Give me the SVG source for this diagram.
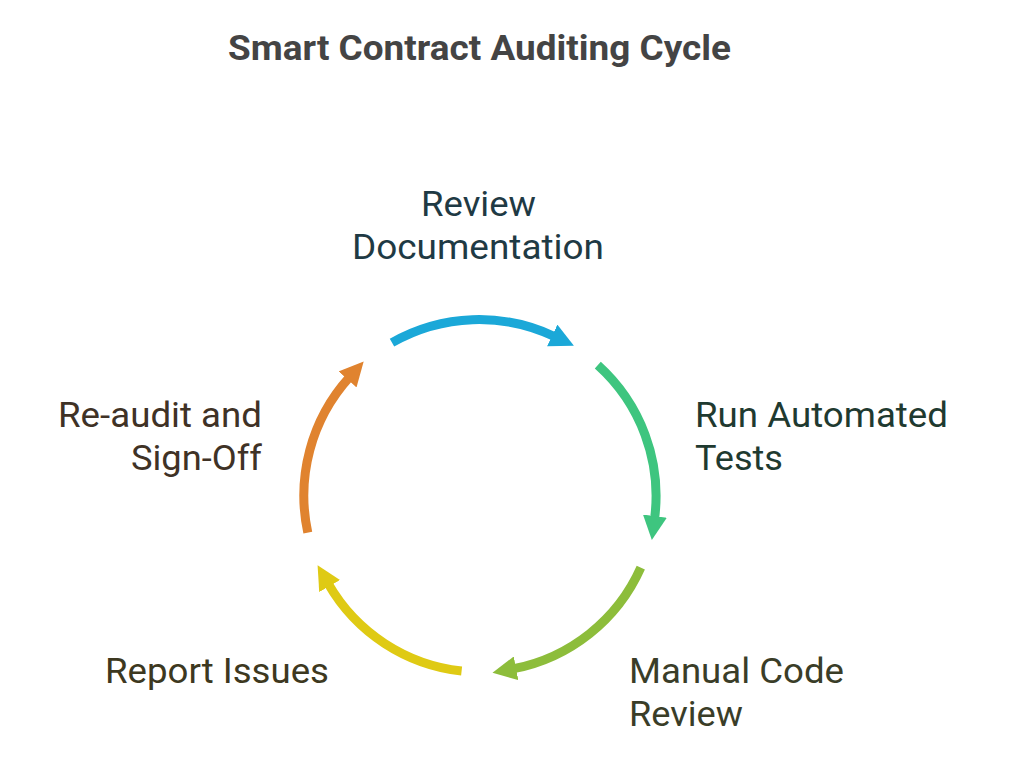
<svg xmlns="http://www.w3.org/2000/svg" width="1024" height="783" viewBox="0 0 1024 783">
<style>
text{font-family:Roboto,"Liberation Sans",sans-serif}
.title{font-size:35px;font-weight:bold;fill:#444444}
.lbl{font-size:35px}
.arc{fill:none;stroke-width:9;stroke-linecap:butt}
</style>
<defs>
<marker id="hb" markerUnits="userSpaceOnUse" markerWidth="24" markerHeight="24" refX="2" refY="10" orient="auto" viewBox="0 0 20 20"><path d="M0,0 L20,10 L0,20 z" fill="#1ba8d8"/></marker>
<marker id="hg" markerUnits="userSpaceOnUse" markerWidth="24" markerHeight="24" refX="2" refY="10" orient="auto" viewBox="0 0 20 20"><path d="M0,0 L20,10 L0,20 z" fill="#3ec57f"/></marker>
<marker id="hl" markerUnits="userSpaceOnUse" markerWidth="24" markerHeight="24" refX="2" refY="10" orient="auto" viewBox="0 0 20 20"><path d="M0,0 L20,10 L0,20 z" fill="#8dbd3b"/></marker>
<marker id="hy" markerUnits="userSpaceOnUse" markerWidth="24" markerHeight="24" refX="2" refY="10" orient="auto" viewBox="0 0 20 20"><path d="M0,0 L20,10 L0,20 z" fill="#dfca14"/></marker>
<marker id="ho" markerUnits="userSpaceOnUse" markerWidth="24" markerHeight="24" refX="2" refY="10" orient="auto" viewBox="0 0 20 20"><path d="M0,0 L20,10 L0,20 z" fill="#e0832f"/></marker>
</defs>
<rect width="1024" height="783" fill="#ffffff"/>
<text class="title" x="228" y="60" textLength="503" lengthAdjust="spacingAndGlyphs">Smart Contract Auditing Cycle</text>
<g id="connectors">
<path class="arc" stroke="#1ba8d8" marker-end="url(#hb)" d="M392,342.6 A176,176 0 0 1 554.4,336.5"/>
<path class="arc" stroke="#3ec57f" marker-end="url(#hg)" d="M597.8,365.2 A176,176 0 0 1 654.6,518.5"/>
<path class="arc" stroke="#8dbd3b" marker-end="url(#hl)" d="M640.8,567.6 A176,176 0 0 1 513.7,668.7"/>
<path class="arc" stroke="#dfca14" marker-end="url(#hy)" d="M461.6,671 A176,176 0 0 1 328.4,584.0"/>
<path class="arc" stroke="#e0832f" marker-end="url(#ho)" d="M307.8,532.6 A176,176 0 0 1 349.2,377.6"/>
</g>
<g id="review-documentation">
<text class="lbl" x="421" y="216" textLength="115" lengthAdjust="spacingAndGlyphs" fill="#1f3a44">Review</text>
<text class="lbl" x="352" y="259" textLength="252" lengthAdjust="spacingAndGlyphs" fill="#1f3a44">Documentation</text>
</g>
<g id="run-automated-tests">
<text class="lbl" x="695" y="427" textLength="253" lengthAdjust="spacingAndGlyphs" fill="#1f3a30">Run Automated</text>
<text class="lbl" x="695" y="470" textLength="88" lengthAdjust="spacingAndGlyphs" fill="#1f3a30">Tests</text>
</g>
<g id="manual-code-review">
<text class="lbl" x="629" y="683" textLength="215" lengthAdjust="spacingAndGlyphs" fill="#3a3d28">Manual Code</text>
<text class="lbl" x="629" y="726" textLength="114" lengthAdjust="spacingAndGlyphs" fill="#3a3d28">Review</text>
</g>
<g id="report-issues">
<text class="lbl" x="105" y="683" textLength="224" lengthAdjust="spacingAndGlyphs" fill="#3d3820">Report Issues</text>
</g>
<g id="re-audit-sign-off">
<text class="lbl" x="58" y="427" textLength="204" lengthAdjust="spacingAndGlyphs" fill="#3f3226">Re-audit and</text>
<text class="lbl" x="131" y="470" textLength="131" lengthAdjust="spacingAndGlyphs" fill="#3f3226">Sign-Off</text>
</g>
</svg>
